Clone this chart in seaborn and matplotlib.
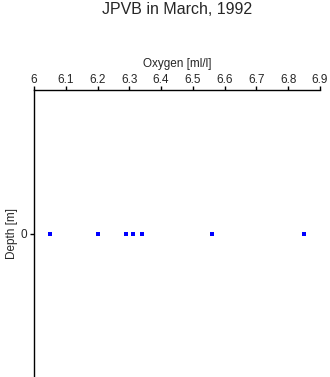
import matplotlib
matplotlib.use("Agg")
import matplotlib.pyplot as plt
import seaborn as sns
import pandas as pd

oxygen = [6.05, 6.20, 6.29, 6.31, 6.34, 6.56, 6.85]
depth = [0, 0, 0, 0, 0, 0, 0]
xticks = [6, 6.1, 6.2, 6.3, 6.4, 6.5, 6.6, 6.7, 6.8, 6.9]
xticklabels = ["6", "6.1", "6.2", "6.3", "6.4", "6.5", "6.6", "6.7", "6.8", "6.9"]

sns.set_style("ticks")
plt.rcParams['font.family'] = ['Liberation Sans', 'DejaVu Sans']

df = pd.DataFrame({"Oxygen": oxygen, "Depth": depth})
fig = plt.figure(figsize=(3.3, 3.77), dpi=100)
ax = fig.add_axes([34/330, 0.0, 286/330, 1 - 90/377])
sns.scatterplot(data=df, x="Oxygen", y="Depth", ax=ax, marker="s", s=5,
                color="blue", edgecolor="blue", linewidth=0)
ax.set_xlim(6, 6.9)
ax.set_ylim(1, -1)
ax.xaxis.tick_top()
ax.xaxis.set_label_position("top")
ax.set_xticks(xticks)
ax.set_xticklabels(xticklabels)
ax.set_yticks([0])
ax.set_yticklabels(["0"])
ax.set_xlabel("Oxygen [ml/l]", fontsize=8.5, labelpad=5)
ax.set_ylabel("Depth [m]", fontsize=8.5, labelpad=2)
ax.tick_params(axis="x", labelsize=8.5, length=3, width=1, color="black", pad=0)
ax.tick_params(axis="y", labelsize=8.5, length=3, width=1, color="black", pad=2)
for s in ["right", "bottom"]:
    ax.spines[s].set_visible(False)
for s in ["top", "left"]:
    ax.spines[s].set_linewidth(1)
    ax.spines[s].set_color("black")
fig.text(177/330, 1 - 10/377, "JPVB in March, 1992", ha="center", va="center", fontsize=11.5)
fig.savefig("out.png", dpi=100)
